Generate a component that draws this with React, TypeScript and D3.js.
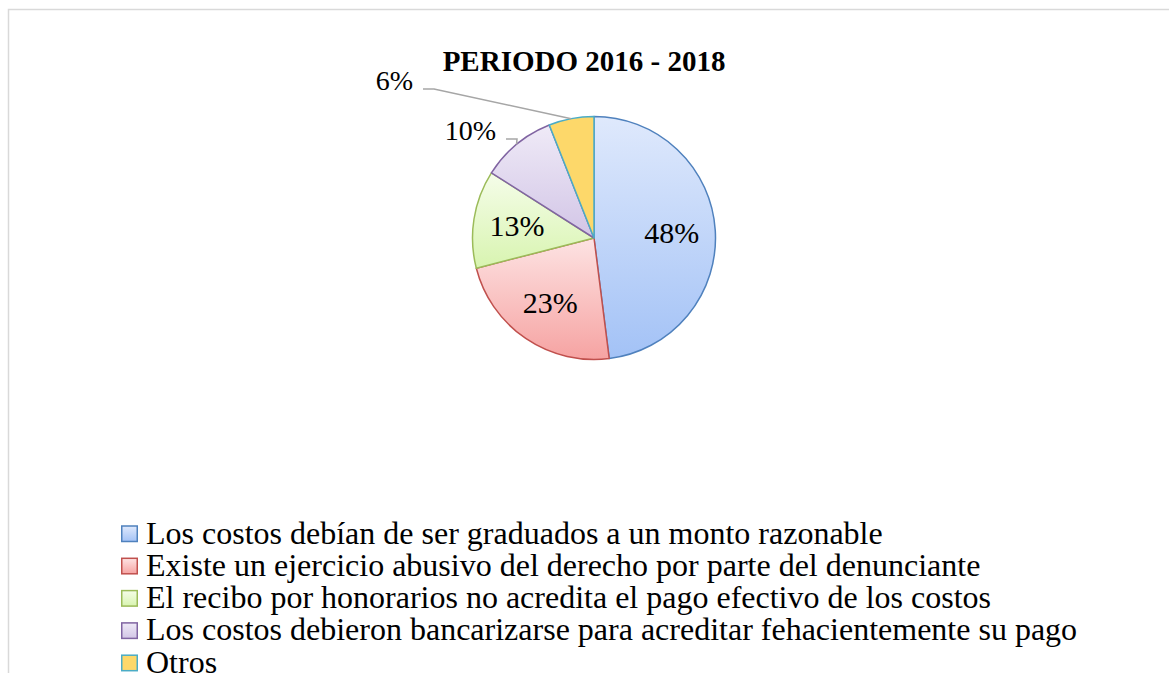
import React, { useEffect, useRef } from "react";
import * as d3 from "d3";

// chart data
const categories = [
  "Los costos debían de ser graduados a un monto razonable",
  "Existe un ejercicio abusivo del derecho por parte del denunciante",
  "El recibo por honorarios no acredita el pago efectivo de los costos",
  "Los costos debieron bancarizarse para acreditar fehacientemente su pago",
  "Otros",
];
const percents = [48, 23, 13, 10, 6];
const chartTitle = "PERIODO 2016 - 2018";

// slice styling: gradient top, gradient bottom, outline
const gradTop = ["#dfe9fc", "#fde3e3", "#f5fde9", "#efeaf7", "#fdd86a"];
const gradBottom = ["#a3c2f6", "#f6a3a2", "#d8f4b0", "#d2c5e6", "#fdd86a"];
const outlines = ["#4f81bd", "#c0504d", "#9bbb59", "#8064a2", "#4bacc6"];

// which labels sit outside, and where their leader elbows go (relative to pie centre)
const outsideElbow: Record<number, [number, number]> = {
  3: [-77, -99],
  4: [-160, -149],
};

const W = 1169;
const H = 673;
const FONT = "'Liberation Serif', 'Times New Roman', serif";

export default function App() {
  const svgRef = useRef<SVGSVGElement>(null);

  useEffect(() => {
    const svg = d3.select(svgRef.current);
    svg.selectAll("*").remove();

    const cx = 594;
    const cy = 238;
    const radius = 121.5;

    // chart frame (only top and left edges visible)
    svg
      .append("path")
      .attr("d", `M8.5,${H} V9.5 H${W}`)
      .attr("fill", "none")
      .attr("stroke", "#d9d9d9")
      .attr("stroke-width", 1.5);

    const defs = svg.append("defs");
    percents.forEach((_, i) => {
      const g = defs
        .append("linearGradient")
        .attr("id", `slice-grad-${i}`)
        .attr("x1", "0%")
        .attr("y1", "0%")
        .attr("x2", "0%")
        .attr("y2", "100%");
      g.append("stop").attr("offset", "0%").attr("stop-color", gradTop[i]);
      g.append("stop").attr("offset", "100%").attr("stop-color", gradBottom[i]);
    });

    // title
    svg
      .append("text")
      .attr("x", 584)
      .attr("y", 71)
      .attr("text-anchor", "middle")
      .style("font-family", FONT)
      .style("font-size", "29px")
      .style("font-weight", "bold")
      .text(chartTitle);

    const pie = d3
      .pie<number>()
      .sort(null)
      .value((d) => d);
    const arcs = pie(percents);

    const arcGen = d3.arc<d3.PieArcDatum<number>>().innerRadius(0).outerRadius(radius);
    const labelArc = d3.arc<d3.PieArcDatum<number>>().innerRadius(78).outerRadius(78);
    const edgeArc = d3.arc<d3.PieArcDatum<number>>().innerRadius(radius).outerRadius(radius);

    const pieGroup = svg.append("g").attr("transform", `translate(${cx},${cy})`);

    pieGroup
      .selectAll("path.slice")
      .data(arcs)
      .enter()
      .append("path")
      .attr("class", "slice")
      .attr("d", arcGen)
      .attr("fill", (_, i) => `url(#slice-grad-${i})`)
      .attr("stroke", (_, i) => outlines[i])
      .attr("stroke-width", 1.5)
      .attr("stroke-linejoin", "round");

    // data labels
    arcs.forEach((a, i) => {
      const label = `${percents[i]}%`;
      const elbow = outsideElbow[i];
      if (elbow) {
        const [ex, ey] = edgeArc.centroid(a);
        const tailX = elbow[0] - 11;
        pieGroup
          .append("polyline")
          .attr("points", `${ex},${ey} ${elbow[0]},${elbow[1]} ${tailX},${elbow[1]}`)
          .attr("fill", "none")
          .attr("stroke", "#a6a6a6")
          .attr("stroke-width", 1.5);
        pieGroup
          .append("text")
          .attr("x", tailX - 10)
          .attr("y", elbow[1] + 1)
          .attr("text-anchor", "end")
          .style("font-family", FONT)
          .style("font-size", "28px")
          .text(label);
      } else {
        const [lx, ly] = labelArc.centroid(a);
        pieGroup
          .append("text")
          .attr("x", lx)
          .attr("y", ly + 10)
          .attr("text-anchor", "middle")
          .style("font-family", FONT)
          .style("font-size", "30px")
          .text(label);
      }
    });

    // legend
    const legendY = d3
      .scalePoint<string>()
      .domain(categories)
      .range([533.5, 533.5 + 32.3 * (categories.length - 1)]);

    const legend = svg
      .selectAll("g.legend-item")
      .data(categories)
      .enter()
      .append("g")
      .attr("class", "legend-item")
      .attr("transform", (d) => `translate(121,${legendY(d)})`);

    legend
      .append("rect")
      .attr("x", 0.75)
      .attr("y", -7.5)
      .attr("width", 15.5)
      .attr("height", 15.5)
      .attr("fill", (_, i) => `url(#slice-grad-${i})`)
      .attr("stroke", (_, i) => outlines[i])
      .attr("stroke-width", 1.5);

    legend
      .append("text")
      .attr("x", 25)
      .attr("y", 10)
      .style("font-family", FONT)
      .style("font-size", "32px")
      .text((d) => d);
  }, []);

  return (
    <svg
      ref={svgRef}
      width={W}
      height={H}
      style={{ position: "absolute", left: 0, top: 0, background: "#fff" }}
    />
  );
}
